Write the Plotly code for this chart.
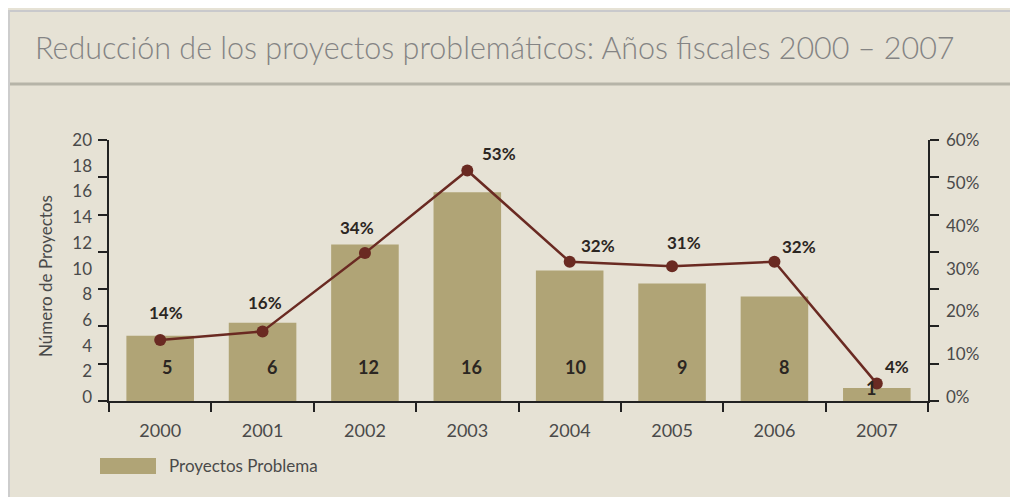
import plotly.graph_objects as go

years = ["2000", "2001", "2002", "2003", "2004", "2005", "2006", "2007"]
proyectos = [5, 6, 12, 16, 10, 9, 8, 1]
porcentaje = [14, 16, 34, 53, 32, 31, 32, 4]
bar_label_dx = [7, 9, 4, 4, 6, 10, 10, -6]
pct_label_dx = [6, 2, -8, 32, 28, 12, 25, 20]
pct_label_dy = [28, 29, 26, 17, 16, 24, 15, 17]

title = "Reducción de los proyectos problemáticos: Años fiscales 2000 – 2007"
bar_name = "Proyectos Problema"
ytitle = "Número de Proyectos"

# page has an 8px body margin; work in screenshot pixel coords and offset
OFF = 8
W, H = 1018 - OFF, 497 - OFF
ML, MR, MT, MB = 109 - OFF, 90, 140 - OFF, 96
PW = W - ML - MR
PH = H - MT - MB

def px(x):
    return (x - OFF - ML) / PW

def py(y):
    return (H - MB - (y - OFF)) / PH

BG = "#E6E2D5"
BAR = "#B0A476"
LINE = "#6A2A22"
TXT = "#2B2622"
GRAY = "#4A4A4A"
FONT = "Lato"

fig = go.Figure()
fig.add_trace(go.Bar(x=years, y=proyectos, marker=dict(color=BAR, line=dict(width=0)),
                     name=bar_name, showlegend=False, yaxis="y"))
fig.add_trace(go.Scatter(x=years, y=porcentaje, mode="lines+markers", yaxis="y2",
                         line=dict(color=LINE, width=2.5),
                         marker=dict(color=LINE, size=12), showlegend=False))
fig.add_trace(go.Scatter(x=[years[0]], y=[None], yaxis="y3", showlegend=False, hoverinfo="skip"))
fig.add_trace(go.Scatter(x=[years[0]], y=[None], yaxis="y4", showlegend=False, hoverinfo="skip"))

n_int = 7
left_max, right_max = 20, 60
left_ticks = [left_max * k / n_int for k in range(n_int + 1)]
right_ticks = [right_max * k / n_int for k in range(n_int + 1)]
left_labels = list(range(0, 21, 2))
right_labels = list(range(0, 61, 10))
eps_l, eps_r = 0.3, 0.9

annotations = []
for i, v in enumerate(proyectos):
    yv = 2.6 if v > 2 else 1.0
    annotations.append(dict(x=i, y=yv, xref="x", yref="y", text=f"<b>{v}</b>",
                            showarrow=False, xshift=bar_label_dx[i],
                            font=dict(family=FONT, size=18, color=TXT)))
for i, p in enumerate(porcentaje):
    annotations.append(dict(x=i, y=p, xref="x", yref="y2", text=f"<b>{p}%</b>",
                            showarrow=False, xshift=pct_label_dx[i], yshift=pct_label_dy[i],
                            font=dict(family=FONT, size=17, color=TXT)))
annotations.append(dict(x=px(33), y=py(47), xref="paper", yref="paper", text=title,
                        showarrow=False, xanchor="left", yanchor="middle",
                        font=dict(family=FONT, size=30.5, color="#848484", weight=300)))
annotations.append(dict(x=px(45), y=py(276), xref="paper", yref="paper", text=ytitle,
                        showarrow=False, textangle=-90, xanchor="center", yanchor="middle",
                        font=dict(family=FONT, size=17, color=GRAY)))
annotations.append(dict(x=px(167), y=py(466), xref="paper", yref="paper", text=bar_name,
                        showarrow=False, xanchor="left", yanchor="middle",
                        font=dict(family=FONT, size=17, color=GRAY)))

shapes = [
    dict(type="line", xref="paper", yref="paper", x0=px(8), x1=px(1018), y0=py(11), y1=py(11),
         line=dict(color="#C9C9CC", width=2), layer="below"),
    dict(type="line", xref="paper", yref="paper", x0=px(9), x1=px(9), y0=py(10), y1=py(497),
         line=dict(color="#CDCDCD", width=2), layer="below"),
    dict(type="line", xref="paper", yref="paper", x0=px(10), x1=px(1018), y0=py(84), y1=py(84),
         line=dict(color="#B6B4A8", width=3), layer="below"),
    dict(type="rect", xref="paper", yref="paper", x0=px(100), x1=px(156), y0=py(474), y1=py(458),
         fillcolor=BAR, line=dict(width=0), layer="below"),
]

axis_common = dict(showgrid=False, zeroline=False, fixedrange=True)
fig.update_layout(
    width=W, height=H,
    margin=dict(l=ML, r=MR, t=MT, b=MB),
    paper_bgcolor=BG, plot_bgcolor=BG,
    bargap=0.34,
    showlegend=False,
    font=dict(family=FONT, color=GRAY),
    xaxis=dict(type="category", range=[-0.5, 7.5], showline=True, linecolor="#222222",
               linewidth=2, ticks="outside", tickson="boundaries", ticklen=9,
               tickwidth=2, tickcolor="#222222", ticklabelstandoff=12,
               tickfont=dict(family=FONT, size=18, color=GRAY), **axis_common),
    yaxis=dict(range=[0, left_max], tickvals=left_ticks, showticklabels=False,
               ticks="outside", ticklen=9, tickwidth=2, tickcolor="#222222",
               showline=True, linecolor="#222222", linewidth=2, **axis_common),
    yaxis2=dict(range=[0, right_max], overlaying="y", side="right", anchor="x",
                tickvals=right_ticks, showticklabels=False, ticks="outside", ticklen=9,
                tickwidth=2, tickcolor="#222222", showline=True, linecolor="#222222",
                linewidth=2, **axis_common),
    yaxis3=dict(range=[-eps_l, left_max], overlaying="y", side="left", anchor="x",
                tickvals=left_labels, ticktext=[str(v) for v in left_labels],
                ticks="", showline=False, ticklabelstandoff=16,
                tickfont=dict(family=FONT, size=17, color=GRAY), **axis_common),
    yaxis4=dict(range=[-eps_r, right_max], overlaying="y", side="right", anchor="x",
                tickvals=right_labels, ticktext=[f"{v}%" for v in right_labels],
                ticks="", showline=False,
                ticklabelstandoff=17, tickfont=dict(family=FONT, size=17, color=GRAY),
                **axis_common),
    annotations=annotations,
    shapes=shapes,
)

fig.write_html("out.html")
